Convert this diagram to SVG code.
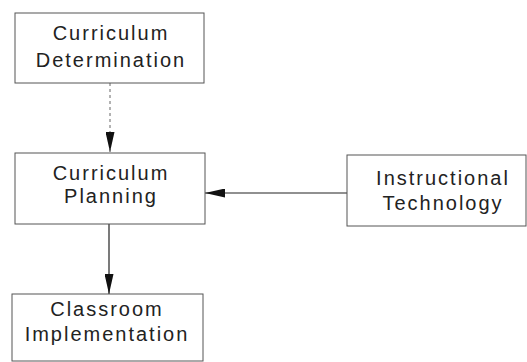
<svg xmlns="http://www.w3.org/2000/svg" width="527" height="362" viewBox="0 0 527 362">
<style>
  .box { fill: #ffffff; stroke: #555; stroke-width: 1; }
  .lbl { font-family: "Liberation Sans", Arial, sans-serif; font-size: 20px; letter-spacing: 2px; fill: #222; text-anchor: middle; }
  .conn { stroke: #222; stroke-width: 1.2; fill: none; }
  .faint { stroke: #666; stroke-width: 1; stroke-dasharray: 3 3; fill: none; }
</style>
<defs>
  <marker id="arrow" viewBox="0 0 20 9" refX="20" refY="4.5" markerWidth="20" markerHeight="9" markerUnits="userSpaceOnUse" orient="auto">
    <path d="M0,0 L20,4.5 L0,9 Z" fill="#111"/>
  </marker>
</defs>
<rect width="527" height="362" fill="#ffffff"/>
<g id="connectors">
  <line class="faint" x1="110" y1="83" x2="110" y2="152" marker-end="url(#arrow)"/>
  <line class="conn" x1="347" y1="193" x2="205" y2="193" marker-end="url(#arrow)"/>
  <line class="conn" x1="109" y1="224" x2="109" y2="294" marker-end="url(#arrow)"/>
</g>
<g id="curriculum-determination">
  <rect class="box" x="15" y="13" width="189" height="70"/>
  <text class="lbl" x="111" y="40">Curriculum</text>
  <text class="lbl" x="111" y="67">Determination</text>
</g>
<g id="curriculum-planning">
  <rect class="box" x="15" y="153" width="190" height="71"/>
  <text class="lbl" x="111" y="180">Curriculum</text>
  <text class="lbl" x="111" y="203">Planning</text>
</g>
<g id="instructional-technology">
  <rect class="box" x="347" y="155" width="179" height="71"/>
  <text class="lbl" x="443" y="185">Instructional</text>
  <text class="lbl" x="443" y="210">Technology</text>
</g>
<g id="classroom-implementation">
  <rect class="box" x="12" y="294" width="191" height="67"/>
  <text class="lbl" x="107" y="316">Classroom</text>
  <text class="lbl" x="107" y="341">Implementation</text>
</g>
</svg>
